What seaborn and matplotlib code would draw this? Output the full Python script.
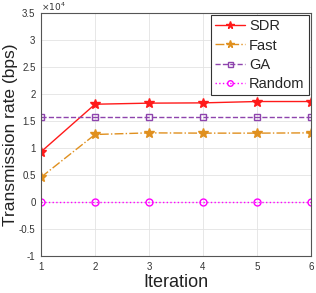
import matplotlib
matplotlib.use("Agg")
import matplotlib.pyplot as plt
import seaborn as sns
import pandas as pd

ITERATIONS = [1, 2, 3, 4, 5, 6]
SDR = [9300, 18100, 18300, 18350, 18600, 18600]
FAST = [4600, 12500, 12800, 12750, 12750, 12800]
GA = [15800, 15800, 15800, 15800, 15800, 15800]
RANDOM = [0, 0, 0, 0, 0, 0]

SERIES = {"SDR": SDR, "Fast": FAST, "GA": GA, "Random": RANDOM}
STYLES = {
    "SDR": dict(color="#FF1A1A", marker="*", linestyle="-", ms=7),
    "Fast": dict(color="#E0901F", marker="*", linestyle="-.", ms=7),
    "GA": dict(color="#8E44AD", marker="s", linestyle="--", ms=4.5, mfc="none"),
    "Random": dict(color="#FF00FF", marker="o", linestyle=":", ms=5, mfc="none"),
}

sns.set_style("whitegrid")
plt.rcParams["font.family"] = ["Liberation Sans", "DejaVu Sans"]

rows = []
for name, vals in SERIES.items():
    for it, v in zip(ITERATIONS, vals):
        rows.append({"Iteration": it, "rate": v, "method": name})
df = pd.DataFrame(rows)

fig = plt.figure(figsize=(3.16, 2.93), dpi=100)
ax = fig.add_axes([0.130, 0.126, 0.854, 0.830])

for name in SERIES:
    st = STYLES[name]
    sub = df[df["method"] == name]
    sns.lineplot(data=sub, x="Iteration", y="rate", ax=ax, label=name,
                 color=st["color"], linestyle=st["linestyle"], marker=st["marker"],
                 markersize=st["ms"], markerfacecolor=st.get("mfc", st["color"]),
                 markeredgecolor=st["color"], markeredgewidth=1.0, linewidth=1.0)

ax.set_xlim(1, 6)
ax.set_ylim(-10000, 35000)
ax.set_xticks(ITERATIONS)
yt = [-10000, -5000, 0, 5000, 10000, 15000, 20000, 25000, 30000, 35000]
ax.set_yticks(yt)
ax.set_yticklabels(["-1", "-0.5", "0", "0.5", "1", "1.5", "2", "2.5", "3", "3.5"])
ax.text(0.0, 1.0, r"$\times10^4$", transform=ax.transAxes, fontsize=6.5,
        color="#333333", va="bottom", ha="left")

ax.tick_params(axis="both", labelsize=7, colors="#333333", direction="in",
               length=3, width=0.6, pad=4)
ax.grid(True, color="#e3e3e3", linewidth=0.6)
for sp in ax.spines.values():
    sp.set_color("#555555")
    sp.set_linewidth(0.8)

ax.set_xlabel("Iteration", fontsize=13, color="#222222", labelpad=2)
ax.set_ylabel("Transmission rate (bps)", fontsize=12.5, color="#222222", labelpad=1)

leg = ax.legend(loc="upper right", fontsize=10.5, frameon=True, fancybox=False,
                edgecolor="#333333", framealpha=1, handlelength=2.0,
                borderpad=0.3, labelspacing=0.35, handletextpad=0.3,
                borderaxespad=0.15, markerscale=0.8)
leg.get_frame().set_linewidth(0.8)

fig.savefig("out.png", dpi=100)
plt.close(fig)
